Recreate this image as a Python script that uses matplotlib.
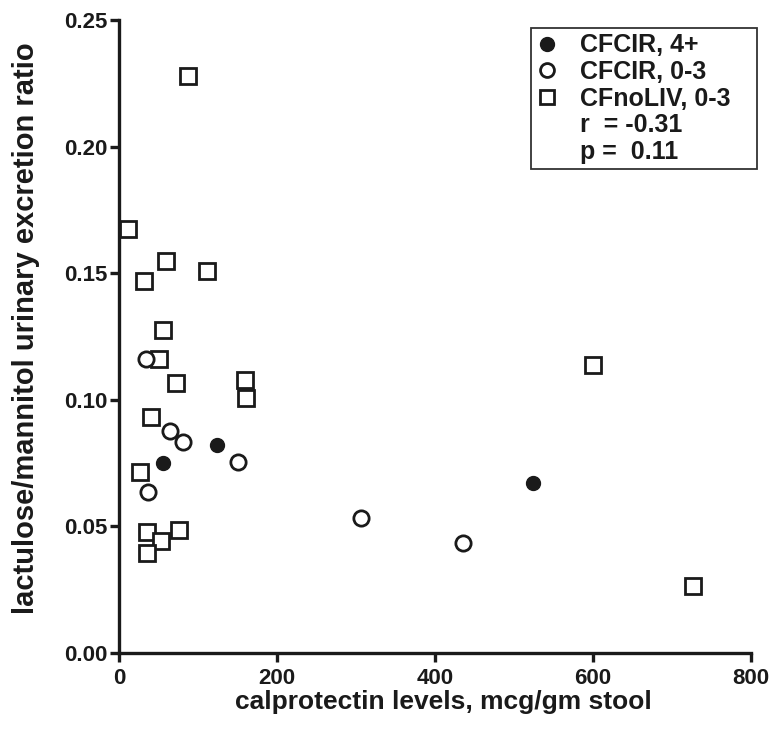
import matplotlib
matplotlib.use("Agg")
import matplotlib.pyplot as plt
from matplotlib.lines import Line2D

plt.rcParams['font.family'] = ['Liberation Sans', 'DejaVu Sans']
plt.rcParams['font.weight'] = 'bold'

# CFCIR, 4+ (filled circles)
cfcir4_x = [56, 124, 524]
cfcir4_y = [0.0752, 0.0822, 0.0673]

# CFCIR, 0-3 (open circles)
cfcir03_x = [34, 64, 81, 150, 37, 306, 436]
cfcir03_y = [0.1162, 0.0875, 0.0833, 0.0754, 0.0634, 0.0535, 0.0436]

# CFnoLIV, 0-3 (open squares)
cfno_x = [87, 11, 60, 32, 112, 56, 50, 72, 159, 161, 41, 27, 35, 76, 53, 36, 600, 726]
cfno_y = [0.228, 0.1675, 0.1547, 0.1468, 0.1507, 0.1277, 0.1162, 0.1066, 0.1079,
          0.1007, 0.0934, 0.0713, 0.0476, 0.0486, 0.0443, 0.0394, 0.1138, 0.0265]

legend_labels = ["CFCIR, 4+", "CFCIR, 0-3", "CFnoLIV, 0-3", "r  = -0.31", "p =  0.11"]
x_ticks = [0, 200, 400, 600, 800]
y_ticks = [0.00, 0.05, 0.10, 0.15, 0.20, 0.25]

fig = plt.figure(figsize=(7.77, 7.38), dpi=100)
ax = fig.add_axes([119/777, (738-653)/738, (751-119)/777, (653-20)/738])

ink = '#1a1a1a'
ax.plot(cfno_x, cfno_y, linestyle='none', marker='s', markersize=11.5,
        markerfacecolor='white', markeredgecolor=ink, markeredgewidth=2.0, clip_on=False)
ax.plot(cfcir03_x, cfcir03_y, linestyle='none', marker='o', markersize=11,
        markerfacecolor='white', markeredgecolor=ink, markeredgewidth=2.0, clip_on=False)
ax.plot(cfcir4_x, cfcir4_y, linestyle='none', marker='o', markersize=10,
        markerfacecolor=ink, markeredgecolor=ink, markeredgewidth=1.0, clip_on=False)

ax.set_xlim(0, 800)
ax.set_ylim(0, 0.25)
ax.set_xticks(x_ticks)
ax.set_xticklabels([str(v) for v in x_ticks])
ax.set_yticks(y_ticks)
ax.set_yticklabels([f"{v:.2f}" for v in y_ticks])

for s in ['top', 'right']:
    ax.spines[s].set_visible(False)
for s in ['left', 'bottom']:
    ax.spines[s].set_linewidth(2.4)
    ax.spines[s].set_color(ink)
ax.tick_params(axis='both', direction='out', length=6.5, width=2.4, color=ink,
               labelsize=16, labelcolor=ink)
ax.tick_params(axis='y', pad=1.5)
ax.tick_params(axis='x', pad=4)
for lab in ax.get_xticklabels() + ax.get_yticklabels():
    lab.set_fontweight('bold')

ax.set_xlabel("calprotectin levels, mcg/gm stool", fontsize=19, fontweight='bold',
              color=ink)
ax.xaxis.set_label_coords(0.513, -0.058, transform=ax.transAxes)
ax.xaxis.label.set_va('top')
ax.set_ylabel("lactulose/mannitol urinary excretion ratio", fontsize=21,
              fontweight='bold', color=ink)
ax.yaxis.set_label_coords(-0.125, 0.513)

handles = [
    Line2D([], [], linestyle='none', marker='o', markersize=10, markerfacecolor=ink,
           markeredgecolor=ink),
    Line2D([], [], linestyle='none', marker='o', markersize=10, markerfacecolor='white',
           markeredgecolor=ink, markeredgewidth=2.0),
    Line2D([], [], linestyle='none', marker='s', markersize=10, markerfacecolor='white',
           markeredgecolor=ink, markeredgewidth=2.0),
    Line2D([], [], linestyle='none'),
    Line2D([], [], linestyle='none'),
]
x0 = (531 - 119) / 632
w = 226 / 632
ytop = (653 - 28) / 633
leg = ax.legend(handles, legend_labels, loc='upper left',
                bbox_to_anchor=(x0, ytop - 0.4, w, 0.4), mode='expand',
                frameon=True, fancybox=False, framealpha=1, edgecolor='#333333',
                prop={'weight': 'bold', 'size': 18}, handlelength=0.8,
                handletextpad=0.95, labelspacing=0.1, borderpad=0.22,
                borderaxespad=0)
leg.get_frame().set_linewidth(1.3)
for t in leg.get_texts():
    t.set_color(ink)

fig.savefig("out.png", dpi=100)
